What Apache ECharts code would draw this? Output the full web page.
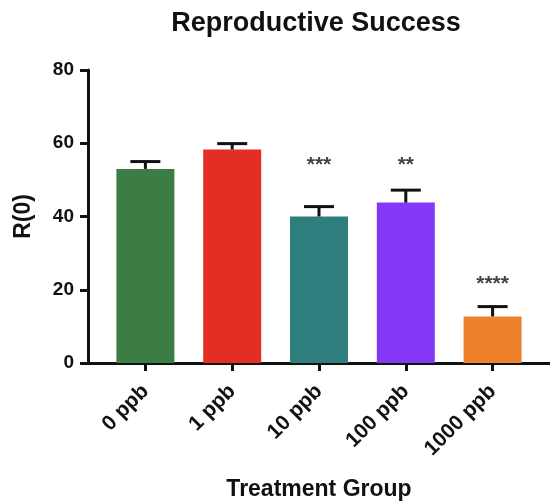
<!DOCTYPE html>
<html>
<head>
<meta charset="utf-8">
<script src="https://cdn.jsdelivr.net/npm/echarts@6/dist/echarts.min.js"></script>
<style>
  html, body { margin: 0; padding: 0; background: #fff; }
  #chart { width: 550px; height: 501px; }
</style>
</head>
<body>
<div id="chart"></div>
<script>
// Reproductive success R(0) by treatment group (mean with upper SEM bar)
const groups = ['0 ppb', '1 ppb', '10 ppb', '100 ppb', '1000 ppb'];
const meanR0 = [53.0, 58.3, 40.0, 43.8, 12.7];
const semR0 = [2.0, 1.6, 2.7, 3.4, 2.7];
const sigMarks = ['', '', '***', '**', '****'];
const sigLevel = [null, null, 54, 54, 21.5];
const yTicks = { min: 0, max: 80, step: 20 };

const barColors = ['#3b7d45', '#e22e25', '#2f7e7e', '#8437f5', '#ee822c'];
const FONT = '"Liberation Sans", Arial, Helvetica, sans-serif';
const INK = '#111';

const chart = echarts.init(document.getElementById('chart'));

chart.setOption({
  animation: false,
  backgroundColor: '#fff',
  title: {
    text: 'Reproductive Success',
    left: 311,
    top: 5,
    textAlign: 'center',
    textStyle: { fontFamily: FONT, fontWeight: 'bold', fontSize: 27, color: INK }
  },
  grid: [
    { left: 102, width: 434, top: 70, height: 293, outerBoundsMode: 'none', containLabel: false },
    { left: 88, right: 0, top: 70, height: 293, outerBoundsMode: 'none', containLabel: false }
  ],
  xAxis: [
    {
      type: 'category',
      gridIndex: 0,
      data: groups,
      axisLine: { show: false },
      axisTick: { show: true, alignWithLabel: true, length: 8, lineStyle: { color: INK, width: 3 } },
      axisLabel: {
        rotate: 45,
        margin: 25,
        fontFamily: FONT, fontWeight: 'bold', fontSize: 21, color: INK
      },
      name: 'Treatment Group',
      nameLocation: 'middle',
      nameGap: 115,
      nameTextStyle: { fontFamily: FONT, fontWeight: 'bold', fontSize: 23, color: INK }
    },
    {
      type: 'value',
      gridIndex: 1,
      min: 0, max: 1,
      axisLine: { show: true, lineStyle: { color: INK, width: 3 } },
      axisTick: { show: false },
      axisLabel: { show: false },
      splitLine: { show: false }
    }
  ],
  yAxis: [
    {
      type: 'value',
      gridIndex: 0,
      min: yTicks.min, max: yTicks.max, interval: yTicks.step,
      offset: 14,
      axisLine: { show: true, lineStyle: { color: INK, width: 3 } },
      axisTick: { show: true, length: 8, lineStyle: { color: INK, width: 3 } },
      axisLabel: { margin: 14, fontFamily: FONT, fontWeight: 'bold', fontSize: 19, color: INK },
      splitLine: { show: false },
      name: 'R(0)',
      nameLocation: 'middle',
      nameGap: 53,
      nameTextStyle: { fontFamily: FONT, fontWeight: 'bold', fontSize: 23, color: INK }
    },
    {
      type: 'value',
      gridIndex: 1,
      min: 0, max: 1,
      show: false
    }
  ],
  series: [
    {
      type: 'bar',
      xAxisIndex: 0, yAxisIndex: 0,
      barWidth: 58,
      data: meanR0.map((v, i) => ({ value: v, itemStyle: { color: barColors[i] } })),
      z: 2
    },
    {
      type: 'custom',
      xAxisIndex: 0, yAxisIndex: 0,
      data: meanR0.map((v, i) => [i, v, v + semR0[i]]),
      z: 3,
      renderItem: function (params, api) {
        const base = api.coord([api.value(0), api.value(1)]);
        const top = api.coord([api.value(0), api.value(2)]);
        const half = 15;
        const style = { stroke: INK, lineWidth: 3, fill: null };
        return {
          type: 'group',
          children: [
            { type: 'line', shape: { x1: base[0], y1: base[1], x2: top[0], y2: top[1] }, style: style },
            { type: 'line', shape: { x1: top[0] - half, y1: top[1], x2: top[0] + half, y2: top[1] }, style: style }
          ]
        };
      }
    },
    {
      type: 'scatter',
      xAxisIndex: 0, yAxisIndex: 0,
      symbolSize: 1,
      itemStyle: { color: 'rgba(0,0,0,0)' },
      data: sigMarks.map((m, i) => m ? { value: [i, sigLevel[i]], name: m } : null).filter(Boolean),
      label: {
        show: true,
        position: 'inside',
        formatter: p => p.name,
        fontFamily: FONT, fontWeight: 'bold', fontSize: 21, color: INK
      },
      z: 4
    }
  ]
});
</script>
</body>
</html>
